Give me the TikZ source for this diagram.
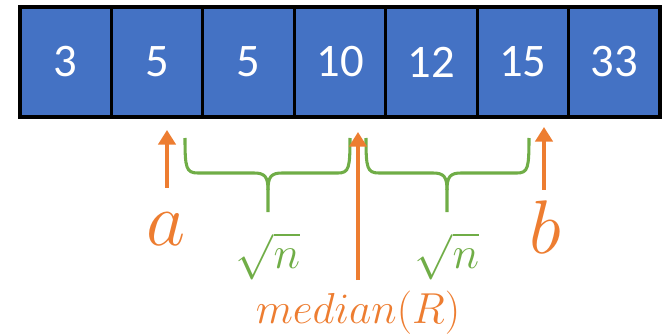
\RequirePackage{fix-cm}
\documentclass[tikz,border=0pt]{standalone}
\usepackage{fontspec}
\newfontfamily\cellfont{Carlito}
\usetikzlibrary{arrows.meta}
\definecolor{cellblue}{HTML}{4472C4}
\definecolor{accorange}{HTML}{ED7D31}
\definecolor{accgreen}{HTML}{70AD47}
\tikzset{
  cell/.style={draw=black, line width=2.4pt, fill=cellblue, minimum width=68.57pt,
    minimum height=82.5pt, inner sep=0pt, text=white,
    font=\cellfont\fontsize{35}{40}\selectfont},
  ptr/.style={draw=accorange, line width=2.6pt,
    -{Triangle[length=11pt, width=13pt]}},
  bracepath/.style={draw=accgreen, line width=2.3pt, line cap=butt},
  biglbl/.style={text=accorange, anchor=base, inner sep=0pt, font=\fontsize{57}{60}\selectfont},
  medlbl/.style={text=accorange, anchor=base, inner sep=0pt, font=\fontsize{32.5}{36}\selectfont},
  sqlbl/.style={text=accgreen, anchor=base, inner sep=0pt, font=\fontsize{34}{38}\selectfont},
}
\begin{document}
\begin{tikzpicture}[x=0.75pt, y=-0.75pt]
\useasboundingbox (0,0) rectangle (672,335);
% cells
\foreach \v [count=\i] in {3,5,5,10,12,15,33} {
  \node[cell] (c\i) at ({20+91.43*(\i-0.5)},62) {\v};
}
% labels
\node[biglbl] (la) at (166,245) {$a$};
\node[biglbl] (lb) at (545,253) {$b$};
\node[sqlbl] (s1) at (268,268) {$\sqrt{n}$};
\node[sqlbl] (s2) at (447,268) {$\sqrt{n}$};
\node[medlbl] (lm) at (358,323) {$median(R)$};
% arrow coordinates
\coordinate (aS) at (167,188);
\coordinate (aT) at (167,130);
\coordinate (mS) at (358,280);
\coordinate (mT) at (358,132);
\coordinate (bS) at (544,190);
\coordinate (bT) at (544,127);
\draw[ptr] (aS) -- (aT);
\draw[ptr] (bS) -- (bT);
% braces
\draw[bracepath] (185,138) .. controls (185,168) and (186,173) .. (198,173)
  -- (254,173) .. controls (265,173) and (268,177) .. (268,190) -- (268,212);
\draw[bracepath] (268,190) .. controls (268,177) and (271,173) .. (282,173)
  -- (338,173) .. controls (349,173) and (350,168) .. (350,138);
\draw[bracepath] (366,138) .. controls (366,168) and (367,173) .. (379,173)
  -- (433,173) .. controls (444,173) and (447,177) .. (447,190) -- (447,212);
\draw[bracepath] (447,190) .. controls (447,177) and (450,173) .. (461,173)
  -- (517,173) .. controls (528,173) and (529,168) .. (529,138);
\draw[ptr] (mS) -- (mT);
\end{tikzpicture}
\end{document}
